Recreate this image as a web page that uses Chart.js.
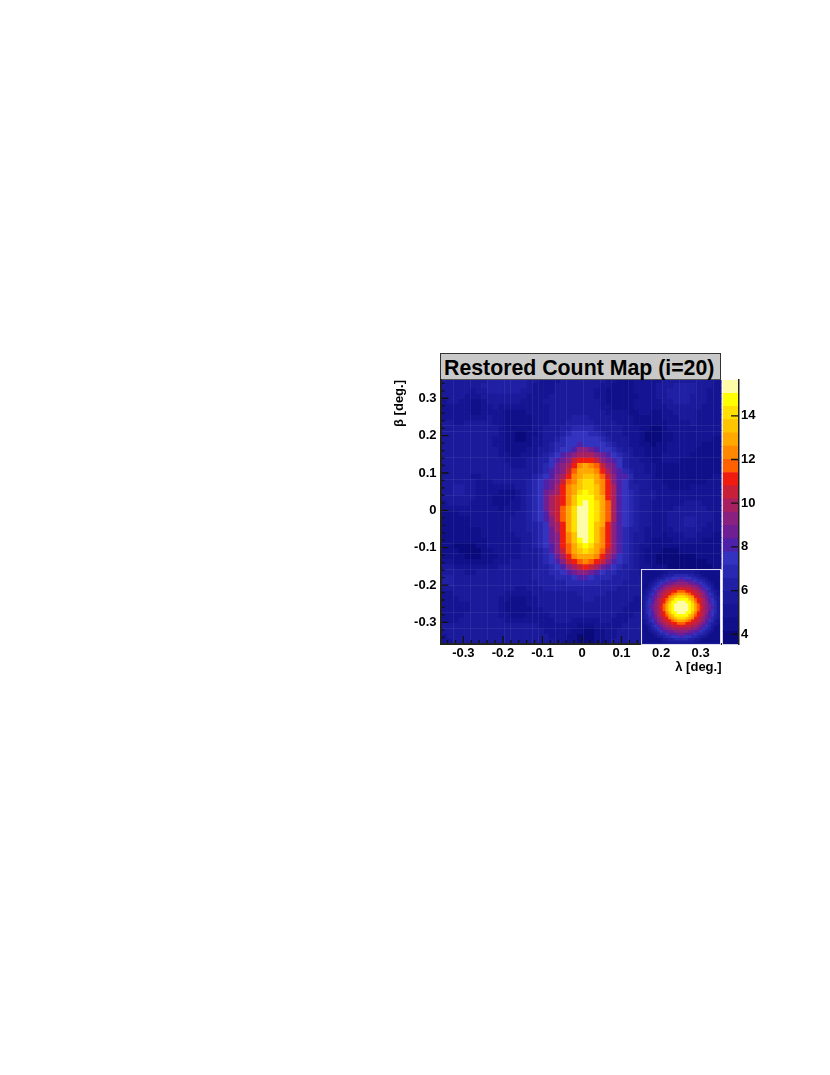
<!DOCTYPE html>
<html>
<head>
<meta charset="utf-8">
<title>Restored Count Map</title>
<script src="https://cdn.jsdelivr.net/npm/chart.js@4"></script>
<style>
    body { margin: 0; background: #fff; }
    canvas { position: absolute; }
    #mapTitle {
        position: absolute; left: 440px; top: 353px; width: 281px; height: 27px;
        box-sizing: border-box; background: #c9c9c9; border: 1px solid #333; border-bottom-color: #555;
        font: bold 21.3px "Liberation Sans", sans-serif; line-height: 28px; color: #000;
        padding-left: 3px; white-space: nowrap;
    }
    #psfFrame {
        position: absolute; left: 641px; top: 569px; width: 80px; height: 75.5px;
        box-sizing: border-box; border: 1.5px solid #dcdcec; background: #1a1a9b;
    }
</style>
</head>
<body>
<div id="mapTitle">Restored Count Map (i=20)</div>
<canvas id="mapChart" width="342" height="312" style="left:380px;top:378px"></canvas>
<canvas id="barChart" width="45" height="268" style="left:722px;top:378px"></canvas>
<div id="psfFrame"></div>
<canvas id="psfChart" width="77" height="72" style="left:642.5px;top:570.5px"></canvas>
<script>
// colour bands bottom to top, same count as the colour bar on the right
const palette = ['#0a0a7c', '#10108a', '#151593', '#1a1a9b', '#2020a5', '#2828b0', '#3333c0', '#4f20a8',
    '#701e94', '#8a2080', '#a8205f', '#c82038', '#f01c10', '#ff6000', '#ff8800', '#ffa800',
    '#ffc400', '#ffe000', '#ffff00', '#fffca8'];
const bandEdges = [3.54, 4.145, 4.75, 5.355, 5.96, 6.565, 7.17, 7.775, 8.38, 8.985, 9.59, 10.195, 10.8,
    11.405, 12.01, 12.615, 13.22, 13.825, 14.43, 15.035, 15.64];

const lambdaTicks = [-0.3, -0.2, -0.1, 0, 0.1, 0.2, 0.3];
const betaTicks = [-0.3, -0.2, -0.1, 0, 0.1, 0.2, 0.3];
const countTicks = [4, 6, 8, 10, 12, 14];
const lambdaStart = -0.354, lambdaBin = 0.01426;
const betaStart = 0.3561, betaBin = 0.01428;

// bin edges where the original raster shows its faint lighter lines
const seamColumns = [2, 5, 8, 11, 12, 16, 17, 20, 22, 25, 28, 30, 33, 37, 39, 42, 45, 48];
const seamRows = [9, 10, 15, 19, 22, 25, 31, 33, 36, 39, 44, 47];

// restored map, one row per beta bin from the top, values are colour band numbers.
// rows from 36 stop at column 35, the rest sits under the PSF inset
const mapRows = [
    [3,3,3,3,3,3,3,3,4,4, 4,4,4,4,4,3,3,2,2,2, 2,3,3,3,3,3,3,3,3,2, 2,1,1,1,2,2,2,2,2,3, 3,3,3,3,3,3,3,3,2,2],
    [3,3,3,3,3,3,3,4,4,4, 4,4,4,4,4,3,2,2,2,2, 3,3,3,3,3,3,3,3,2,2, 1,1,1,1,2,2,2,2,3,3, 3,4,4,4,4,3,3,3,2,2],
    [3,3,3,3,3,2,3,3,4,4, 4,4,4,4,3,3,2,2,2,2, 3,3,3,3,3,3,3,2,2,1, 1,1,1,1,2,2,2,2,3,3, 4,4,4,4,4,3,3,2,2,2],
    [3,3,3,3,2,2,2,3,3,3, 3,3,3,3,3,2,2,2,2,3, 3,3,3,3,3,3,3,2,2,1, 1,1,1,1,1,2,2,2,3,3, 4,4,4,4,3,3,3,2,2,2],
    [2,3,3,2,2,1,1,2,3,3, 3,3,3,3,2,2,2,2,3,3, 3,3,3,3,3,3,3,3,2,1, 1,1,1,1,2,2,2,2,2,3, 3,4,4,4,3,3,3,2,2,2],
    [2,2,2,2,2,1,1,2,2,3, 2,2,2,2,2,2,2,2,2,3, 3,3,3,3,3,3,3,3,2,2, 1,1,1,1,2,2,2,2,2,2, 3,3,3,3,3,3,2,2,2,2],
    [2,2,2,2,2,1,1,2,2,2, 2,1,1,1,1,2,2,2,2,3, 3,3,3,3,3,3,3,3,3,2, 2,2,2,1,1,2,2,1,1,2, 2,3,3,3,3,2,2,2,2,2],
    [2,2,2,2,2,2,2,2,3,2, 2,1,1,1,1,1,2,2,2,3, 3,3,3,4,4,4,3,3,3,3, 2,2,2,2,1,1,1,1,1,2, 2,2,3,3,3,2,2,2,2,2],
    [3,3,2,2,3,3,3,3,3,2, 2,1,1,1,1,1,2,2,2,3, 3,3,4,4,4,4,4,3,3,3, 3,2,2,2,1,1,1,1,1,1, 2,2,2,2,3,2,2,2,2,2],
    [3,3,3,3,3,3,3,3,3,3, 2,1,1,1,1,1,2,2,3,3, 3,4,4,5,5,5,5,4,3,3, 3,3,2,2,2,1,1,0,0,1, 2,2,2,2,2,2,2,2,2,2],
    [3,3,3,3,3,3,3,3,3,3, 2,1,1,0,0,1,1,2,3,3, 3,4,5,6,6,6,5,5,4,3, 3,3,2,2,2,1,0,0,0,1, 1,2,2,2,2,2,2,2,2,2],
    [3,3,3,3,3,3,3,3,3,2, 2,1,1,0,0,1,2,2,3,3, 4,5,6,6,6,6,6,6,5,4, 3,3,3,2,2,1,0,0,0,1, 1,2,2,2,2,2,2,2,1,1],
    [3,3,3,3,3,3,3,3,3,2, 2,1,1,1,1,1,2,2,3,4, 5,5,6,6,7,6,6,6,6,5, 4,3,3,2,2,1,1,0,1,1, 2,2,2,2,2,2,1,1,1,1],
    [3,3,3,3,3,3,3,3,3,3, 2,1,1,1,1,2,2,3,3,4, 5,6,6,7,9,9,8,7,6,6, 5,4,3,3,2,2,1,1,1,1, 2,2,2,2,2,1,1,1,1,1],
    [3,3,3,3,3,3,3,3,3,3, 2,2,1,1,2,2,2,3,4,5, 6,7,8,9,10,10,10,9,8,7, 6,5,4,3,2,2,1,1,1,2, 2,2,2,2,1,1,1,1,1,1],
    [3,3,3,3,3,3,3,3,3,3, 3,2,2,2,2,3,3,4,4,6, 7,8,9,11,12,12,12,11,9,8, 7,6,4,3,3,2,2,1,1,2, 2,2,1,1,1,1,1,1,1,1],
    [3,3,3,3,3,3,3,3,3,3, 3,3,2,2,2,3,3,4,5,6, 8,9,10,12,14,15,14,13,11,9, 8,6,4,3,3,3,2,2,1,1, 1,1,1,1,1,1,1,1,1,1],
    [3,3,3,3,3,3,3,3,3,3, 3,3,3,3,3,3,3,4,5,7, 8,9,11,13,15,15,15,14,12,10, 8,7,5,4,3,3,2,2,1,1, 1,1,1,1,1,1,1,1,1,1],
    [3,3,3,3,3,2,2,3,3,3, 3,3,3,3,3,3,4,5,6,7, 9,10,12,14,15,16,16,15,13,11, 9,7,7,5,3,3,3,2,1,1, 1,1,1,1,1,1,1,1,2,2],
    [3,3,3,3,3,3,2,2,2,3, 3,3,3,3,3,4,5,6,7,8, 9,11,13,14,16,17,17,15,14,12, 9,7,6,4,3,3,3,2,2,1, 1,1,1,1,1,1,1,2,2,2],
    [3,3,4,4,3,3,2,2,2,2, 2,2,2,3,3,4,5,6,7,8, 10,12,14,15,16,17,17,16,14,12, 10,7,6,4,4,3,3,2,2,2, 1,1,1,1,2,2,2,2,2,2],
    [3,3,4,4,3,3,2,2,2,2, 1,1,1,2,3,4,5,6,8,9, 10,12,14,15,17,18,17,16,14,12, 10,7,6,5,4,3,3,3,2,2, 2,2,2,2,2,2,2,2,2,2],
    [3,3,3,3,3,3,2,2,2,1, 1,1,1,2,3,4,5,6,8,10, 11,12,14,16,18,18,18,16,15,12, 10,7,6,5,4,3,3,3,2,2, 2,2,2,2,2,2,2,2,2,2],
    [2,3,3,3,3,2,2,2,2,1, 1,1,2,2,3,4,5,6,8,10, 11,12,14,16,18,19,18,17,15,13, 10,7,6,5,4,3,3,2,2,2, 2,2,2,3,3,3,2,2,2,2],
    [2,2,2,2,2,2,2,2,2,2, 1,2,2,2,3,4,5,6,8,10, 11,13,15,17,19,19,18,17,15,13, 10,7,6,5,4,3,3,2,2,2, 2,3,3,3,3,3,3,2,2,2],
    [1,1,1,2,2,2,2,2,2,2, 2,2,2,3,3,4,5,6,7,10, 11,13,15,17,19,19,18,17,15,13, 10,7,6,5,4,3,3,2,2,2, 3,3,3,3,3,3,3,3,2,2],
    [1,1,1,1,1,2,2,2,2,2, 2,2,3,3,3,4,5,6,7,9, 11,13,15,17,19,19,18,17,15,13, 10,7,6,5,4,3,3,2,2,2, 3,3,3,4,4,3,3,3,2,2],
    [1,1,1,1,1,2,2,2,2,2, 2,2,3,3,3,4,4,5,6,9, 10,12,15,17,19,19,18,16,15,12, 9,7,6,5,4,3,3,2,2,2, 3,3,3,4,4,3,3,2,2,2],
    [1,1,1,1,1,1,1,2,2,2, 2,2,3,3,3,4,4,5,6,8, 10,12,15,17,19,19,18,16,14,12, 9,7,5,4,4,3,2,2,2,2, 2,3,3,3,3,3,2,2,2,2],
    [1,1,1,1,1,1,1,2,2,2, 2,2,2,3,3,3,4,5,6,8, 9,12,14,16,19,19,18,16,14,12, 9,7,5,4,3,3,2,2,2,1, 2,2,2,3,3,2,2,2,1,1],
    [1,1,1,1,1,1,1,1,2,2, 2,2,2,2,3,3,4,5,6,8, 9,12,14,16,18,19,18,16,14,12, 9,7,5,4,3,3,2,1,1,1, 1,2,2,2,2,2,1,1,1,1],
    [1,1,0,0,0,0,1,1,2,2, 2,2,2,2,3,3,4,5,6,7, 9,12,13,15,17,18,17,15,14,12, 9,7,5,4,3,2,2,1,1,1, 1,1,1,1,1,1,1,1,1,1],
    [1,1,1,0,0,0,0,1,1,2, 2,2,2,2,3,3,3,4,5,7, 9,11,13,15,16,17,16,15,13,11, 9,7,5,4,3,2,1,1,1,0, 0,0,1,1,1,1,1,1,1,1],
    [1,1,1,1,0,0,0,1,1,1, 2,2,2,2,3,3,3,4,5,6, 8,10,12,14,15,15,15,14,12,10, 8,6,5,4,3,2,1,1,0,0, 0,0,0,0,0,1,1,1,1,1],
    [2,2,1,1,1,1,1,1,1,2, 2,2,3,3,3,3,3,4,5,6, 7,9,11,12,13,14,13,12,11,9, 7,6,5,4,3,2,1,1,0,0, 0,0,0,0,0,0,0,1,1,1],
    [3,3,2,2,2,2,2,2,2,2, 3,3,3,3,3,3,3,4,4,5, 6,7,9,10,11,12,11,10,8,7, 6,5,4,4,3,2,2,1,1,1, 0,0,0,0,0,0,0,0,1,1],
    [3,3,3,3,2,2,3,3,3,3, 3,3,3,3,3,3,4,4,4,5, 5,6,7,8,9,9,8,7,6,5, 5,4,4,3,3,2],
    [4,4,3,3,3,3,3,3,3,3, 3,3,3,3,3,3,4,4,4,4, 5,5,5,6,7,7,6,5,5,5, 4,4,4,3,3,3],
    [4,4,3,3,3,3,3,3,3,3, 3,3,3,3,3,3,3,4,4,4, 4,4,5,5,5,5,5,5,4,4, 4,4,3,3,3,3],
    [3,3,3,3,3,3,3,3,3,3, 3,3,3,2,2,3,3,3,4,4, 4,4,4,4,4,4,4,4,4,4, 4,3,3,3,3,3],
    [2,2,3,3,3,3,3,3,3,3, 3,2,2,2,2,2,3,3,3,3, 3,3,3,3,4,4,4,4,4,3, 3,3,3,3,3,3],
    [2,2,2,3,3,3,3,3,3,3, 2,2,1,1,1,2,2,3,3,3, 3,3,3,3,3,4,4,3,3,3, 3,3,3,3,2,2],
    [2,2,2,2,2,3,3,3,3,3, 2,1,1,1,1,2,2,3,3,3, 3,3,3,3,3,3,3,3,3,3, 3,3,3,2,2,2],
    [2,2,2,2,2,3,3,3,3,3, 2,1,1,1,1,1,2,2,3,3, 3,3,3,3,3,3,3,3,3,3, 3,3,2,2,2,2],
    [2,2,2,2,3,3,3,3,3,3, 2,2,1,1,1,2,2,2,2,3, 3,3,3,3,3,3,3,3,3,3, 3,2,2,2,3,3],
    [2,2,2,3,3,3,3,3,3,3, 3,2,2,2,2,2,2,2,2,2, 3,3,3,2,2,2,2,2,3,3, 2,2,2,3,3,3],
    [3,3,3,3,3,3,3,3,3,3, 3,3,3,3,3,3,3,2,2,2, 2,2,2,2,1,1,1,2,2,2, 2,2,3,3,3,3],
    [3,3,3,3,3,3,3,3,3,3, 3,3,3,3,3,3,3,3,2,2, 2,2,2,1,1,0,0,1,1,2, 2,3,3,3,3,3],
    [2,3,3,3,3,3,3,3,3,3, 3,3,3,3,3,3,3,3,3,2, 2,2,1,1,0,0,0,1,1,2, 2,3,3,3,3,3],
    [2,2,3,3,3,3,3,3,3,3, 3,3,3,3,3,3,3,3,3,3, 2,2,1,1,0,0,0,1,1,2, 3,3,3,3,3,3]
];

// PSF inset, same colour bands
const psfRows = [
    [1,1,1,1,1,1,1,2,2,3,3,3,3,3,3,3,3,3,2,2,1,1,1,1,1,1,1],
    [1,1,1,1,1,1,2,3,3,4,4,5,5,5,5,5,4,4,3,3,2,1,1,1,1,1,1],
    [1,1,1,1,2,3,3,4,5,5,6,6,6,7,6,6,6,5,5,4,3,3,2,1,1,1,1],
    [1,1,1,2,3,4,5,5,6,7,7,7,8,8,8,7,7,7,6,5,5,4,3,2,1,1,1],
    [1,1,2,3,4,5,6,7,7,8,8,9,9,9,9,9,8,8,7,7,6,5,4,3,2,1,1],
    [1,1,3,4,5,6,7,8,9,9,10,10,10,10,10,10,10,9,9,8,7,6,5,4,3,1,1],
    [1,2,3,5,6,7,8,9,10,10,11,11,11,12,11,11,11,10,10,9,8,7,6,5,3,2,1],
    [2,3,4,5,7,8,9,10,11,11,12,12,13,13,13,12,12,11,11,10,9,8,7,5,4,3,2],
    [2,3,5,6,7,9,10,11,11,12,13,14,15,15,15,14,13,12,11,11,10,9,7,6,5,3,2],
    [3,4,5,7,8,9,10,11,12,14,15,16,17,17,17,16,15,14,12,11,10,9,8,7,5,4,3],
    [3,4,6,7,8,10,11,12,13,15,16,18,18,18,18,18,16,15,13,12,11,10,8,7,6,4,3],
    [3,5,6,7,9,10,11,12,14,16,18,18,19,19,19,18,18,16,14,12,11,10,9,7,6,5,3],
    [3,5,6,8,9,10,11,13,15,17,18,19,19,19,19,19,18,17,15,13,11,10,9,8,6,5,3],
    [3,5,7,8,9,10,12,13,15,17,18,19,19,19,19,19,18,17,15,13,12,10,9,8,7,5,3],
    [3,5,6,8,9,10,11,13,15,17,18,19,19,19,19,19,18,17,15,13,11,10,9,8,6,5,3],
    [3,5,6,7,9,10,11,12,14,16,18,18,19,19,19,18,18,16,14,12,11,10,9,7,6,5,3],
    [3,4,6,7,8,10,11,12,13,15,16,18,18,18,18,18,16,15,13,12,11,10,8,7,6,4,3],
    [3,4,5,7,8,9,10,11,12,14,15,16,17,17,17,16,15,14,12,11,10,9,8,7,5,4,3],
    [2,3,5,6,7,9,10,11,11,12,13,14,15,15,15,14,13,12,11,11,10,9,7,6,5,3,2],
    [2,3,4,5,7,8,9,10,11,11,12,12,13,13,13,12,12,11,11,10,9,8,7,5,4,3,2],
    [1,2,3,5,6,7,8,9,10,10,11,11,11,12,11,11,11,10,10,9,8,7,6,5,3,2,1],
    [1,1,3,4,5,6,7,8,9,9,10,10,10,10,10,10,10,9,9,8,7,6,5,4,3,1,1],
    [1,1,2,3,4,5,6,7,7,8,8,9,9,9,9,9,8,8,7,7,6,5,4,3,2,1,1],
    [1,1,1,2,3,4,5,5,6,7,7,7,8,8,8,7,7,7,6,5,5,4,3,2,1,1,1],
    [1,1,1,1,2,3,3,4,5,5,6,6,6,7,6,6,6,5,5,4,3,3,2,1,1,1,1],
    [1,1,1,1,1,1,2,3,3,4,4,5,5,5,5,5,4,4,3,3,2,1,1,1,1,1,1],
    [1,1,1,1,1,1,1,2,2,3,3,3,3,3,3,3,3,3,2,2,1,1,1,1,1,1,1]
];

const tickFont = { family: '"Liberation Sans", sans-serif', size: 13, weight: 'bold' };

const rasterSeams = {
    id: 'rasterSeams',
    afterDatasetsDraw(chart) {
        const { ctx, chartArea, scales } = chart;
        ctx.save();
        ctx.strokeStyle = 'rgba(255, 255, 255, 0.07)';
        ctx.lineWidth = 1;
        ctx.beginPath();
        seamColumns.forEach(c => {
            const px = Math.round(scales.x.getPixelForValue(lambdaStart + lambdaBin * c)) + 0.5;
            ctx.moveTo(px, chartArea.top);
            ctx.lineTo(px, chartArea.bottom);
        });
        seamRows.forEach(r => {
            const py = Math.round(scales.y.getPixelForValue(betaStart - betaBin * r)) + 0.5;
            ctx.moveTo(chartArea.left, py);
            ctx.lineTo(chartArea.right, py);
        });
        ctx.stroke();
        ctx.restore();
    }
};

// ticks on this plot point into the frame, chart.js only draws them outwards
const innerTicks = {
    id: 'innerTicks',
    afterDatasetsDraw(chart) {
        const { ctx, chartArea, scales } = chart;
        const marks = chart.options.plugins.innerTicks;
        ctx.save();
        ctx.strokeStyle = '#111';
        ctx.lineWidth = 1.3;
        ctx.beginPath();
        (marks.x || []).forEach(m => {
            const px = scales.x.getPixelForValue(m.value);
            ctx.moveTo(px, chartArea.bottom);
            ctx.lineTo(px, chartArea.bottom - m.length);
        });
        (marks.y || []).forEach(m => {
            const py = scales.y.getPixelForValue(m.value);
            if (marks.fromRight) {
                ctx.moveTo(chartArea.right, py);
                ctx.lineTo(chartArea.right - m.length, py);
            } else {
                ctx.moveTo(chartArea.left, py);
                ctx.lineTo(chartArea.left + m.length, py);
            }
        });
        ctx.stroke();
        ctx.restore();
    }
};

const tickMarks = (from, to, majors) => {
    const marks = [];
    for (let i = from; i <= to; i += 2) {
        const value = i / 100;
        marks.push({ value, length: majors.includes(value) ? 8 : 4 });
    }
    return marks;
};

// tick labels stick out past the last tick in chart.js' layout, ours stay inside
const noEdgePadding = scale => {
    scale.paddingTop = 0;
    scale.paddingBottom = 0;
    scale.paddingLeft = 0;
    scale.paddingRight = 0;
};

const rowToBars = (row, r) => ({
    data: row.map((band, c) => ({
        x: lambdaStart + lambdaBin * (c + 0.5),
        y: [betaStart - betaBin * (r + 1), betaStart - betaBin * r]
    })),
    backgroundColor: row.map(band => palette[band]),
    borderWidth: 0,
    grouped: false,
    barPercentage: 1,
    categoryPercentage: 1
});

const plainLabel = value => (value === 0 ? '0' : value.toFixed(1));

new Chart(document.getElementById('mapChart'), {
    type: 'bar',
    data: { datasets: mapRows.map(rowToBars) },
    plugins: [rasterSeams, innerTicks],
    options: {
        responsive: false,
        animation: false,
        events: [],
        layout: { padding: { top: 2, right: 0.5 } },
        plugins: {
            legend: { display: false },
            tooltip: { enabled: false },
            innerTicks: {
                x: tickMarks(-34, 34, lambdaTicks),
                y: tickMarks(-34, 34, betaTicks)
            }
        },
        scales: {
            x: {
                type: 'linear',
                min: -0.3578,
                max: 0.3527,
                offset: false,
                grid: { display: false, drawTicks: false },
                border: { display: true, color: '#222', width: 2, z: 1 },
                afterBuildTicks: scale => { scale.ticks = lambdaTicks.map(value => ({ value })); },
                afterFit: scale => { scale.height = 46; noEdgePadding(scale); },
                ticks: {
                    autoSkip: false, maxRotation: 0, padding: 2, color: '#000', font: tickFont,
                    callback: plainLabel
                },
                title: {
                    display: true, text: 'λ [deg.]', align: 'end', color: '#000', font: tickFont,
                    padding: { top: 0, bottom: 15 }
                }
            },
            y: {
                type: 'linear',
                min: -0.3578,
                max: 0.3489,
                grid: { display: false, drawTicks: false },
                border: { display: true, color: '#222', width: 2, z: 1 },
                afterBuildTicks: scale => { scale.ticks = betaTicks.map(value => ({ value })); },
                afterFit: scale => { scale.width = 60.5; noEdgePadding(scale); },
                ticks: {
                    autoSkip: false, padding: 4, color: '#000', font: tickFont,
                    callback: plainLabel
                },
                title: {
                    display: true, text: 'β [deg.]', align: 'end', color: '#000', font: tickFont,
                    padding: { top: 12, bottom: 0 }
                }
            }
        }
    }
});

new Chart(document.getElementById('barChart'), {
    type: 'bar',
    data: {
        labels: ['counts'],
        datasets: palette.map((colour, i) => ({
            data: [[bandEdges[i], bandEdges[i + 1]]],
            backgroundColor: colour,
            borderWidth: 0,
            grouped: false,
            barPercentage: 1,
            categoryPercentage: 1
        }))
    },
    plugins: [innerTicks],
    options: {
        responsive: false,
        animation: false,
        events: [],
        layout: { padding: { top: 2, bottom: 1.7, left: 0.7 } },
        plugins: {
            legend: { display: false },
            tooltip: { enabled: false },
            innerTicks: {
                fromRight: true,
                y: countTicks.map(value => ({ value, length: 8 }))
            }
        },
        scales: {
            x: { display: false },
            y: {
                position: 'right',
                min: 3.54,
                max: 15.64,
                grid: { display: false, drawTicks: false },
                border: { display: true, color: '#222', width: 1.5, z: 1 },
                afterBuildTicks: scale => { scale.ticks = countTicks.map(value => ({ value })); },
                afterFit: scale => { scale.width = 28; noEdgePadding(scale); },
                ticks: { autoSkip: false, padding: 2, color: '#000', font: tickFont }
            }
        }
    }
});

new Chart(document.getElementById('psfChart'), {
    type: 'bar',
    data: {
        datasets: psfRows.map((row, r) => ({
            data: row.map((band, c) => ({ x: c + 0.5, y: [26 - r, 27 - r] })),
            backgroundColor: row.map(band => palette[band]),
            borderWidth: 0,
            grouped: false,
            barPercentage: 1,
            categoryPercentage: 1
        }))
    },
    options: {
        responsive: false,
        animation: false,
        events: [],
        plugins: { legend: { display: false }, tooltip: { enabled: false } },
        scales: {
            x: { type: 'linear', display: false, min: 0, max: 27, offset: false },
            y: { display: false, min: 0, max: 27 }
        }
    }
});
</script>
</body>
</html>
